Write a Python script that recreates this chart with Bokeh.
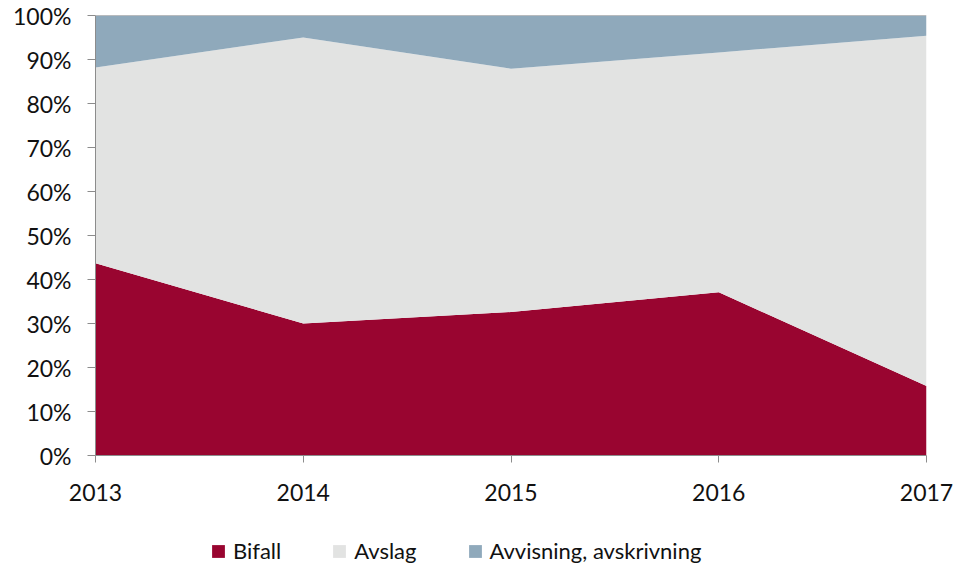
from bokeh.plotting import figure
from bokeh.layouts import column
from bokeh.models import ColumnDataSource, Legend, LegendItem, FixedTicker, NumeralTickFormatter, Span, Range1d
from bokeh.embed import file_html
from bokeh.resources import INLINE

years = [2013, 2014, 2015, 2016, 2017]
bifall = [0.437, 0.300, 0.326, 0.371, 0.158]
avslag = [0.445, 0.650, 0.553, 0.545, 0.796]
avvisning = [0.118, 0.050, 0.121, 0.084, 0.046]
series = ["Bifall", "Avslag", "Avvisning, avskrivning"]
colors = ["#990530", "#E2E3E2", "#8FA9BB"]
y_ticks = [0.0, 0.1, 0.2, 0.3, 0.4, 0.5, 0.6, 0.7, 0.8, 0.9, 1.0]

FONT = "Lato"
FS = "23px"
LFS = "22px"

src = ColumnDataSource(dict(year=years, b=bifall, a=avslag, v=avvisning))

p = figure(width=953, height=516, output_backend="svg", toolbar_location=None,
           x_range=Range1d(2013, 2017), y_range=Range1d(0, 1),
           min_border_left=95, min_border_right=27, min_border_top=15, min_border_bottom=61)
p.outline_line_color = None
p.xgrid.visible = False
p.ygrid.visible = False

p.varea_stack(["b", "a", "v"], x="year", source=src, color=colors)

p.add_layout(Span(location=1.0, dimension="width", line_color="#8c8c8c", line_width=1))

for ax in (p.xaxis[0], p.yaxis[0]):
    ax.axis_line_color = "#8c8c8c"
    ax.major_tick_line_color = "#8c8c8c"
    ax.minor_tick_line_color = None
    ax.major_tick_in = 0
    ax.major_label_text_font = FONT
    ax.major_label_text_font_size = FS
    ax.major_label_text_color = "#111111"

p.xaxis.ticker = FixedTicker(ticks=years)
p.xaxis.major_tick_out = 7
p.xaxis.major_label_standoff = 21
p.yaxis.ticker = FixedTicker(ticks=y_ticks)
p.yaxis.formatter = NumeralTickFormatter(format="0%")
p.yaxis.major_tick_out = 8
p.yaxis.major_label_standoff = 16

# legend strip below the chart
p2 = figure(width=953, height=50, output_backend="svg", toolbar_location=None,
            x_range=Range1d(0, 1), y_range=Range1d(0, 1),
            x_axis_location=None, y_axis_location=None, min_border=0)
p2.outline_line_color = None
p2.xgrid.visible = False
p2.ygrid.visible = False
rs2 = p2.varea_stack(["b", "a", "v"], x="year", source=src, color=colors)

legend = Legend(items=[LegendItem(label=s, renderers=[r]) for s, r in zip(series, rs2)],
                orientation="horizontal", location=(115, 2),
                border_line_color=None, background_fill_alpha=0,
                padding=0, margin=0, spacing=50,
                glyph_width=16, glyph_height=16, label_standoff=7,
                label_text_font=FONT, label_text_font_size=LFS, label_text_color="#111111")
p2.add_layout(legend, "center")

layout = column(p, p2, spacing=0)
open("out.html", "w").write(file_html(layout, INLINE))
